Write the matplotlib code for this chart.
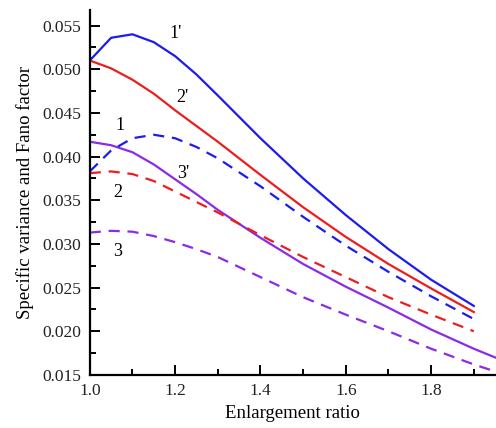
import numpy as np
import matplotlib
matplotlib.use("Agg")
import matplotlib.pyplot as plt
from matplotlib.ticker import MultipleLocator

plt.rcParams['font.family'] = 'serif'
plt.rcParams['font.serif'] = ['Liberation Serif', 'DejaVu Serif']

# enlargement ratio grid
x_main = [1.0, 1.05, 1.1, 1.15, 1.2, 1.25, 1.3, 1.4, 1.5, 1.6, 1.7, 1.8, 1.9]
x_long = [1.0, 1.05, 1.1, 1.15, 1.2, 1.25, 1.3, 1.4, 1.5, 1.6, 1.7, 1.8, 1.9, 1.95]

# Fano factor (solid) and specific variance (dashed)
fano_1 = [0.0510, 0.0536, 0.0540, 0.0531, 0.0515, 0.0494, 0.0470, 0.0421, 0.0375, 0.0333, 0.0294, 0.0259, 0.0229]
fano_2 = [0.0510, 0.0501, 0.0488, 0.0472, 0.0453, 0.0435, 0.0417, 0.0379, 0.0342, 0.0308, 0.0277, 0.0249, 0.0222]
fano_3 = [0.0417, 0.0413, 0.0405, 0.0391, 0.0374, 0.0357, 0.0339, 0.0307, 0.0277, 0.0251, 0.0227, 0.0202, 0.0180, 0.0170]
var_1 = [0.0383, 0.0407, 0.0421, 0.0425, 0.0421, 0.0411, 0.0398, 0.0366, 0.0331, 0.0298, 0.0268, 0.0240, 0.0214]
var_2 = [0.0381, 0.0383, 0.0380, 0.0372, 0.0360, 0.0348, 0.0336, 0.0310, 0.0285, 0.0262, 0.0239, 0.0219, 0.0200]
var_3 = [0.0313, 0.0315, 0.0314, 0.0309, 0.0302, 0.0294, 0.0285, 0.0262, 0.0239, 0.0219, 0.0200, 0.0180, 0.0162, 0.0154]

labels = ["1'", "2'", "1", "3'", "2", "3"]
label_x = [1.202, 1.216, 1.070, 1.220, 1.066, 1.066]
label_y = [0.0541, 0.0468, 0.0436, 0.0381, 0.0359, 0.0291]

blue = '#1c1ced'
red = '#ee1d1d'
purple = '#8a2be6'

fig = plt.figure(figsize=(4.96, 4.28), dpi=100)
ax = fig.add_axes([0.181, 0.124, 0.819, 0.853])

ax.plot(x_main, fano_1, color=blue, lw=1.6)
ax.plot(x_main, fano_2, color=red, lw=1.6)
ax.plot(x_long, fano_3, color=purple, lw=1.6)
ax.plot(x_main, var_1, color=blue, lw=1.6, ls=(0, (5, 3.5)))
ax.plot(x_main, var_2, color=red, lw=1.6, ls=(0, (5, 3.5)))
ax.plot(x_long, var_3, color=purple, lw=1.6, ls=(0, (5, 3.5)))

for t, lx, ly in zip(labels, label_x, label_y):
    ax.text(lx, ly, t, fontsize=13, ha='center', va='center', family='Liberation Serif')

ax.set_xlim(1.0, 1.952)
ax.set_ylim(0.015, 0.0568)
ax.xaxis.set_major_locator(MultipleLocator(0.2))
ax.xaxis.set_minor_locator(MultipleLocator(0.1))
ax.yaxis.set_major_locator(MultipleLocator(0.005))
ax.yaxis.set_minor_locator(MultipleLocator(0.0025))
ax.xaxis.set_major_formatter(plt.FuncFormatter(lambda v, p: f"{v:.1f}"))
ax.yaxis.set_major_formatter(plt.FuncFormatter(lambda v, p: f"{v:.3f}"))

ax.spines['top'].set_visible(False)
ax.spines['right'].set_visible(False)
ax.spines['left'].set_linewidth(1.6)
ax.spines['bottom'].set_linewidth(1.6)
ax.tick_params(which='both', direction='in', width=1.4, labelsize=12.5, pad=6,
               labelfontfamily='Liberation Serif', labelcolor='#222222')
ax.tick_params(which='major', length=7)
ax.tick_params(which='minor', length=4)

ax.set_xlabel("Enlargement ratio", fontsize=13.5, labelpad=4, family='Liberation Serif')
ax.set_ylabel("Specific variance and Fano factor", fontsize=13.5, labelpad=6, family='Liberation Serif')

fig.savefig("out.png", dpi=100)
